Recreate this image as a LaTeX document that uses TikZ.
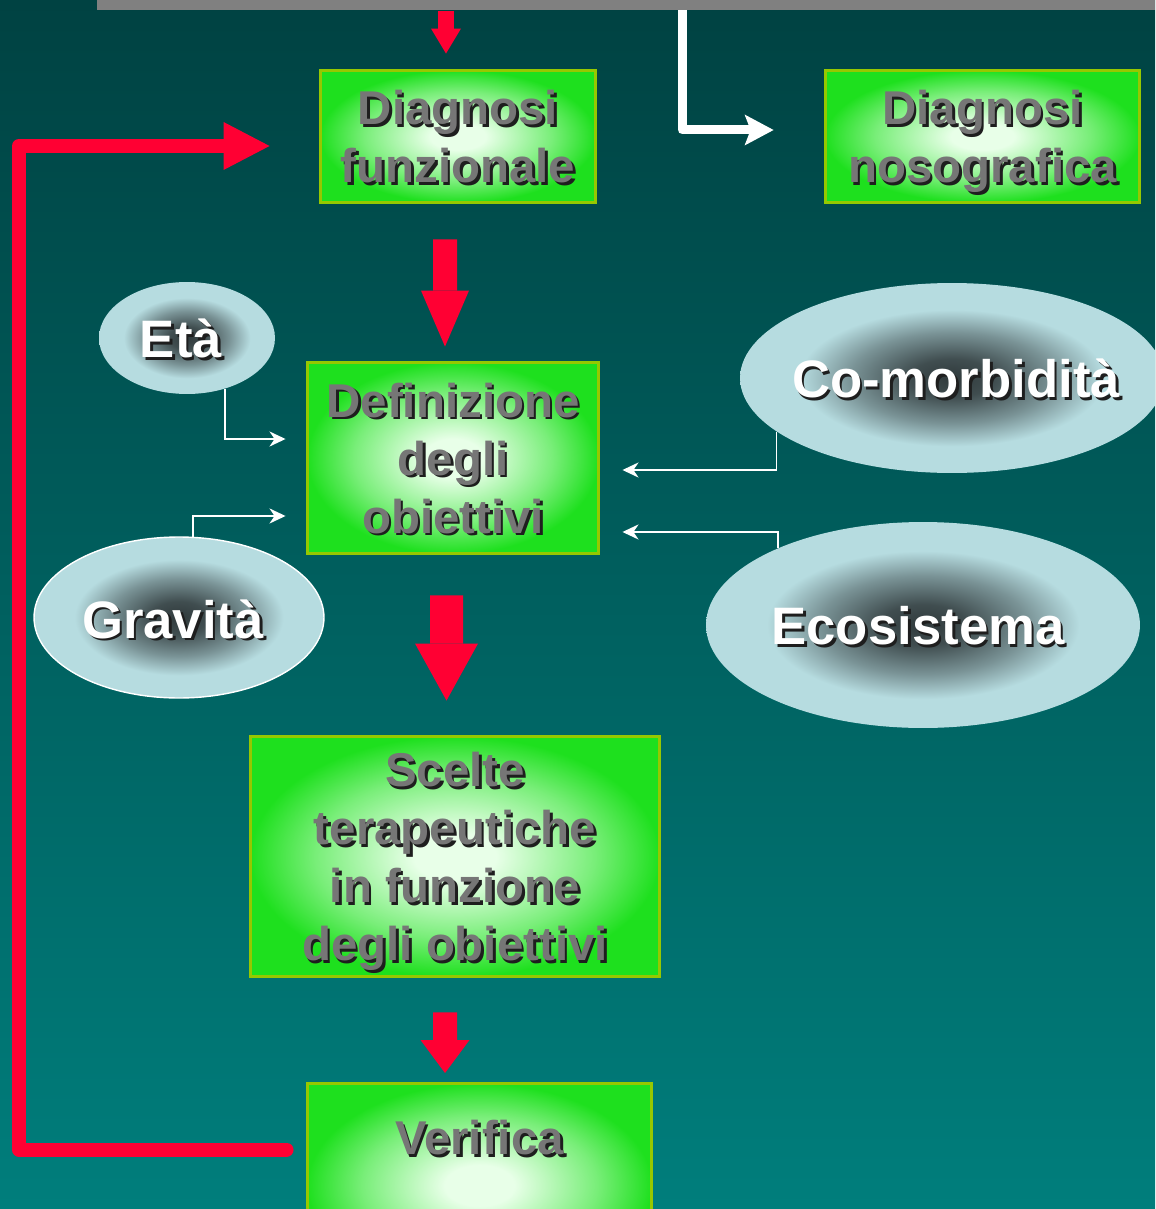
\documentclass[tikz,border=0pt]{standalone}
\usepackage{fontspec}
\setmainfont{Liberation Sans}
\usetikzlibrary{shapes.geometric,arrows.meta}
\definecolor{bgtop}{RGB}{0,66,66}
\definecolor{bgbottom}{RGB}{0,126,124}
\definecolor{barc}{RGB}{128,128,128}
\definecolor{redc}{RGB}{255,0,51}
\definecolor{boxgreen}{RGB}{30,224,30}
\definecolor{boxcore}{RGB}{232,255,232}
\definecolor{boxedge}{RGB}{150,200,0}
\definecolor{boxtext}{RGB}{118,118,118}
\definecolor{ovallight}{RGB}{182,220,224}
\definecolor{ovaldark}{RGB}{48,58,60}
\definecolor{shadowc}{RGB}{30,30,30}
\pgfdeclareradialshading{boxshade}{\pgfpoint{0bp}{0bp}}{color(0bp)=(boxcore); color(5bp)=(boxcore); color(17bp)=(boxgreen!55!boxcore); color(25bp)=(boxgreen); color(50bp)=(boxgreen)}
\pgfdeclareradialshading{ovalshade}{\pgfpoint{0bp}{0bp}}{color(0bp)=(ovaldark); color(5bp)=(ovaldark!88!ovallight); color(12bp)=(ovaldark!45!ovallight); color(18bp)=(ovallight); color(50bp)=(ovallight)}
\newcommand{\shd}[1]{\leavevmode\rlap{\kern1.5pt\raisebox{-1.5pt}{\textcolor{shadowc}{#1}}}#1}
\begin{document}
\begin{tikzpicture}[x=0.02cm,y=-0.02cm,
	box/.style={draw=boxedge,line width=1.7pt,shade,shading=boxshade,text=boxtext,align=center,inner sep=0pt,font=\fontsize{27}{33}\selectfont\bfseries},
	oval/.style={ellipse,shade,shading=ovalshade,inner sep=0pt},
	ovaltext/.style={text=white,font=\fontsize{30}{36}\selectfont\bfseries},
	bigred/.style n args={3}{color=redc,line width=#1,-{Triangle[width=#2,length=#3,line width=0pt]}},
	feedback/.style={color=redc,line width=0.28cm,line cap=round,line join=round,-{Triangle[width=0.96cm,length=0.92cm,line width=0pt]}},
	whitebar/.style={color=white,line width=0.18cm,line join=round,-{Stealth[width=0.62cm,length=0.58cm,inset=0.12cm,line width=0pt]}},
	thinarrow/.style={color=white,line width=1.1pt,-{Stealth[width=0.3cm,length=0.32cm,inset=0.1cm]}}]
	\useasboundingbox (0,0) rectangle (1155,1209);
	\clip (0,0) rectangle (1155,1209);
	\shade [top color=bgtop,bottom color=bgbottom] (0,0) rectangle (1155,1209);
	\node [fill=barc,anchor=north west,inner sep=0pt,minimum width=21.16cm,minimum height=0.2cm] (bar) at (97,0) {};
	\node [box,minimum width=5.52cm,minimum height=2.66cm,text depth=0pt] (funz) at (458,136.5) {\shd{Diagnosi}\\\shd{funzionale}};
	\node [box,minimum width=6.3cm,minimum height=2.66cm,text depth=0pt] (noso) at (982.5,136.5) {\shd{Diagnosi}\\\shd{nosografica}};
	\node [box,minimum width=5.84cm,minimum height=3.84cm,text depth=0pt] (defin) at (453,458) {\shd{Definizione}\\\shd{degli}\\\shd{obiettivi}};
	\node [box,minimum width=8.2cm,minimum height=4.82cm,text depth=0pt] (scelte) at (455,856.5) {\shd{Scelte}\\\shd{terapeutiche}\\\shd{in funzione}\\\shd{degli obiettivi}};
	\node [box,anchor=north,minimum width=6.9cm,inner ysep=0.66cm,text height=0.76cm,text depth=2cm] (verif) at (479.5,1082) {\shd{Verifica}};
	\node [oval,minimum width=3.52cm,minimum height=2.24cm,label={[ovaltext,xshift=-0.12cm,yshift=-0.04cm]center:\shd{Età}}] (eta) at (187,338) {};
	\node [oval,draw=white,line width=0.8pt,minimum width=5.8cm,minimum height=3.22cm,label={[ovaltext,xshift=-0.12cm,yshift=-0.06cm]center:\shd{Gravità}}] (grav) at (179,617.5) {};
	\node [oval,minimum width=8.48cm,minimum height=3.8cm,label={[ovaltext,xshift=0.08cm,yshift=-0.04cm]center:\shd{Co-morbidità}}] (comorb) at (952,378) {};
	\node [oval,minimum width=8.68cm,minimum height=4.12cm,label={[ovaltext,xshift=-0.1cm,yshift=-0.04cm]center:\shd{Ecosistema}}] (ecosis) at (923,625) {};
	\coordinate (split) at (682,10);
	\coordinate (fbx) at (19,0);
	\coordinate (fbstart) at ([xshift=-0.38cm,yshift=-1.35cm]verif.north west);
	\draw [bigred={0.32cm}{0.6cm}{0.5cm}] ([xshift=-0.24cm]funz.north |- bar.south) -- ([xshift=-0.24cm,yshift=0.3cm]funz.north);
	\draw [bigred={0.48cm}{0.96cm}{1.12cm}] ([xshift=-0.26cm,yshift=-0.7cm]funz.south) -- ([xshift=-0.16cm,yshift=0.28cm]defin.north);
	\draw [bigred={0.66cm}{1.26cm}{1.14cm}] ([xshift=-0.13cm,yshift=-0.8cm]defin.south) -- ([xshift=-0.17cm,yshift=0.68cm]scelte.north);
	\draw [bigred={0.48cm}{0.98cm}{0.66cm}] ([xshift=-0.2cm,yshift=-0.68cm]scelte.south) -- ([xshift=-0.69cm,yshift=0.18cm]verif.north);
	\draw [feedback] (fbstart) -- (fbstart -| fbx) |- ([xshift=-0.98cm,yshift=-0.19cm]funz.west);
	\draw [whitebar] (split) |- ([xshift=-1cm,yshift=0.13cm]noso.west);
	\draw [thinarrow] (eta.-53) |- ([xshift=-0.4cm,yshift=0.38cm]defin.west);
	\draw [thinarrow] (grav.80) |- ([xshift=-0.4cm,yshift=-1.16cm]defin.west);
	\draw [thinarrow] (comorb.197) |- ([xshift=0.44cm,yshift=-0.24cm]defin.east);
	\draw [thinarrow] (ecosis.152) |- ([xshift=0.44cm,yshift=-1.48cm]defin.east);
\end{tikzpicture}
\end{document}
